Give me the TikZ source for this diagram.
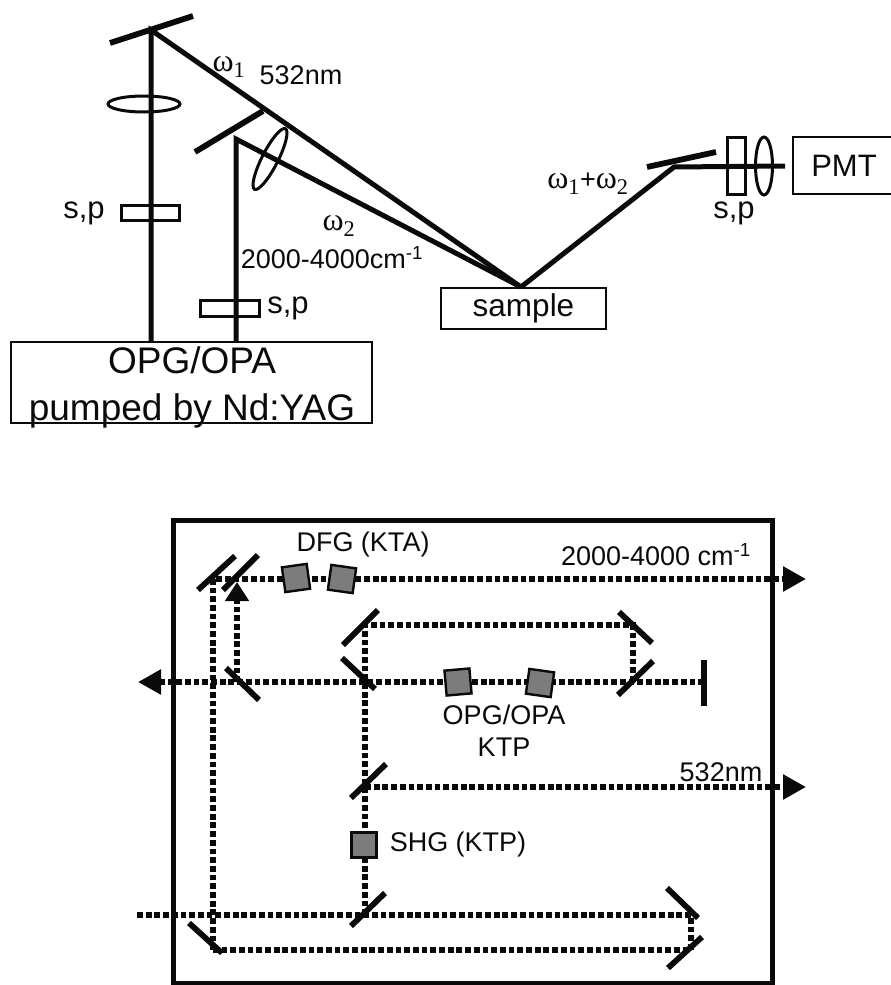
\documentclass[tikz,border=0pt]{standalone}
\usepackage{fontspec}
\usepackage{xcolor}
\usetikzlibrary{arrows.meta,positioning,calc,shapes.geometric}
\setmainfont{Liberation Sans}
\newfontfamily\symbfont{Liberation Serif}
\definecolor{ink}{HTML}{0A0A0A}
\definecolor{crystalfill}{HTML}{7C7C7C}
\newcommand{\omegasub}[1]{{\symbfont\fontsize{32}{36}\selectfont ω\textsubscript{#1}}}

\begin{document}
\begin{tikzpicture}[
    x=1pt, y=-1pt,
    font=\fontsize{27}{32}\selectfont,
    text=ink,
    beam/.style={draw=ink, line width=5pt, line join=miter},
    mirror/.style={draw=ink, line width=5.8pt},
    dotbeam/.style={draw=ink, line width=5.6pt, dash pattern=on 5.8pt off 2.9pt},
    plate/.style={rectangle, draw=ink, line width=3.6pt, inner sep=0pt},
    lens/.style={ellipse, draw=ink, line width=3pt, inner sep=0pt},
    labelbox/.style={rectangle, draw=ink, line width=2.2pt, inner sep=0pt},
    crystal/.style={rectangle, draw=ink, fill=crystalfill, line width=2.4pt,
                    minimum size=25pt, inner sep=0pt},
    frame/.style={draw=ink, line width=5pt},
    tip/.style={-{Triangle[length=23pt,width=24pt]}},
    tipup/.style={-{Triangle[length=19pt,width=23pt]}},
  ]
\useasboundingbox (0,0) rectangle (891,985);

% upper set-up: boxes
\node[labelbox, minimum width=361pt, minimum height=81pt] (source) at (191.5,382.5) {};
\node[align=center, font=\fontsize{37}{47}\selectfont] (sourceText) at (192,387)
  {OPG/OPA\\pumped by Nd:YAG};
\node[labelbox, minimum width=165pt, minimum height=41pt,
      font=\fontsize{31.5}{36}\selectfont] (sample) at (523.5,308.5) {sample};
\node[labelbox, minimum width=102pt, minimum height=57pt,
      font=\fontsize{31}{36}\selectfont] (pmt) at (844,165.5) {PMT};

% upper set-up: beam corners
\coordinate (turnA) at (151,30);
\coordinate (turnB) at (236,139);
\coordinate (turnC) at (674,167);
\coordinate (spot) at (521,287);
\coordinate (endC) at (785,166);

% upper set-up: beams
\draw[beam] (source.north -| turnA) -- (turnA) -- (spot);
\draw[beam] (source.north -| turnB) -- (turnB) -- (spot);
\draw[beam] (spot) -- (turnC) -- (endC);

% upper set-up: mirrors
\draw[mirror] (110,43) -- (193,16);
\draw[mirror] (195,152) -- (263,111);
\draw[mirror] (647,167) -- (716,152);

% upper set-up: plates and lenses
\node[plate, minimum width=58pt, minimum height=15pt] (plateA) at (150.5,213) {};
\node[plate, minimum width=59pt, minimum height=16pt] (plateB) at (230,308.5) {};
\node[plate, minimum width=18pt, minimum height=57pt] (plateC) at (736.5,166) {};
\node[lens, minimum width=72pt, minimum height=16pt] (lensA) at (144,104) {};
\node[lens, minimum width=68pt, minimum height=16pt, rotate=63] (lensB) at (270,159) {};
\node[lens, minimum width=17pt, minimum height=58pt] (lensC) at (764,166) {};

% upper set-up: labels
\node (omegaA) at (229,67) {\omegasub{1}};
\node (greenA) at (301,75) {532nm};
\node (omegaB) at (339,226) {\omegasub{2}};
\node (irA) at (332,258) {2000-4000cm\textsuperscript{-1}};
\node (omegaSum) at (588,184) {\omegasub{1}+\omegasub{2}};
\node[font=\fontsize{31}{36}\selectfont] (polA) at (84,213) {s,p};
\node[font=\fontsize{31}{36}\selectfont] (polB) at (288,308) {s,p};
\node[font=\fontsize{31}{36}\selectfont] (polC) at (734,213) {s,p};

% lower set-up: frame
\draw[frame] (173,520) rectangle (772,983);

% lower set-up: beam corners
\coordinate (inL) at (137,915);
\coordinate (inR) at (691,915);
\coordinate (backR) at (691,950);
\coordinate (backL) at (213,950);
\coordinate (dfgL) at (213,579);
\coordinate (irEnd) at (806,579);
\coordinate (idlerB) at (237,682);
\coordinate (idlerT) at (237,582);
\coordinate (cavR) at (704,682);
\coordinate (cavL) at (138,682);
\coordinate (topL) at (365,625);
\coordinate (topR) at (633,625);
\coordinate (topD) at (633,682);
\coordinate (shgB) at (365,915);
\coordinate (shgT) at (365,787);
\coordinate (greenEnd) at (806,787);

% lower set-up: dotted beams
\draw[dotbeam] (inL) -- (inR) -- (backR) -- (backL);
\draw[dotbeam, tip] (backL) -- (dfgL) -- (irEnd);
\draw[dotbeam, tip] (cavR) -- (cavL);
\draw[dotbeam, tipup] (idlerB) -- (idlerT);
\draw[dotbeam] (shgB) -- (topL) -- (topR) -- (topD);
\draw[dotbeam, tip] (shgT) -- (greenEnd);

% lower set-up: mirrors
\draw[mirror] (198,590) -- (235,556);
\draw[mirror] (223,590) -- (258,555);
\draw[mirror] (226,668) -- (259,700);
\draw[mirror] (343,645) -- (378,610);
\draw[mirror] (342,658) -- (375,689);
\draw[mirror] (619,612) -- (652,643);
\draw[mirror] (618,695) -- (653,661);
\draw[mirror] (704,660) -- (704,706);
\draw[mirror] (351,798) -- (386,764);
\draw[mirror] (351,926) -- (385,893);
\draw[mirror] (667,888) -- (698,918);
\draw[mirror] (668,968) -- (702,937);
\draw[mirror] (189,923) -- (222,953);

% lower set-up: crystals
\node[crystal, rotate=8] (dfgA) at (296,578) {};
\node[crystal, rotate=-8] (dfgB) at (342,579) {};
\node[crystal, rotate=5] (opgA) at (458,682) {};
\node[crystal, rotate=-8] (opgB) at (540,683) {};
\node[crystal] (shg) at (364,845) {};

% lower set-up: labels
\node (dfgText) at (363,545) {DFG (KTA)};
\node (irB) at (656,555) {2000-4000 cm\textsuperscript{-1}};
\node[align=center] (opgText) at (504,731) {OPG/OPA\\KTP};
\node (greenB) at (721,772) {532nm};
\node (shgText) at (458,845) {SHG (KTP)};

\end{tikzpicture}
\end{document}
